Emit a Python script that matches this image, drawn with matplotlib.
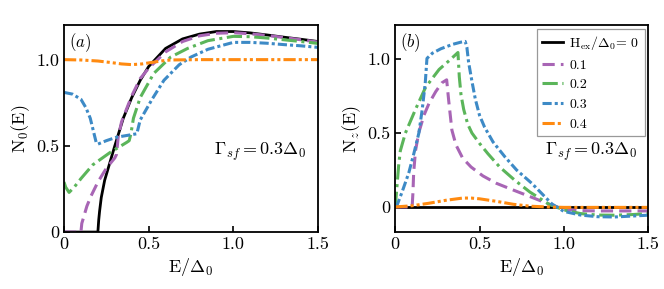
import numpy as np
import matplotlib
matplotlib.use('Agg')
import matplotlib.pyplot as plt
from matplotlib.ticker import FuncFormatter

plt.rcParams['font.family'] = 'serif'
plt.rcParams['font.serif'] = ['cmr10']
plt.rcParams['mathtext.fontset'] = 'cm'
plt.rcParams['axes.unicode_minus'] = False
plt.rcParams['axes.formatter.use_mathtext'] = True

# exchange fields (legend labels)
h_labels = [r'H$_{\rm ex}/\Delta_0$= 0', '0.1', '0.2', '0.3', '0.4']

# panel (a): N0(E)
e_a0 = [0, 0.2, 0.205, 0.21, 0.22, 0.24, 0.27, 0.3, 0.35, 0.4, 0.45, 0.5, 0.6, 0.7, 0.8, 0.9, 1.0, 1.1, 1.2, 1.3, 1.4, 1.5]
n_a0 = [0, 0, 0.07, 0.12, 0.2, 0.3, 0.4, 0.5, 0.66, 0.78, 0.88, 0.96, 1.065, 1.12, 1.148, 1.163, 1.163, 1.155, 1.143, 1.13, 1.118, 1.105]

e_a1 = [0, 0.1, 0.105, 0.12, 0.135, 0.16, 0.2, 0.25, 0.3, 0.31, 0.32, 0.34, 0.4, 0.45, 0.5, 0.6, 0.7, 0.8, 0.9, 1.0, 1.1, 1.2, 1.3, 1.4, 1.5]
n_a1 = [0, 0, 0.05, 0.1, 0.15, 0.21, 0.29, 0.37, 0.43, 0.45, 0.55, 0.64, 0.79, 0.89, 0.95, 1.045, 1.105, 1.138, 1.153, 1.156, 1.15, 1.14, 1.128, 1.115, 1.102]

e_a2 = [0, 0.01, 0.03, 0.06, 0.1, 0.17, 0.27, 0.37, 0.385, 0.395, 0.41, 0.45, 0.53, 0.63, 0.73, 0.85, 1.0, 1.1, 1.2, 1.3, 1.4, 1.5]
n_a2 = [0.29, 0.26, 0.23, 0.26, 0.31, 0.39, 0.46, 0.52, 0.53, 0.57, 0.66, 0.78, 0.92, 1.015, 1.065, 1.11, 1.135, 1.133, 1.125, 1.115, 1.105, 1.094]

e_a3 = [0, 0.05, 0.1, 0.13, 0.155, 0.175, 0.19, 0.2, 0.25, 0.31, 0.37, 0.43, 0.44, 0.45, 0.52, 0.59, 0.68, 0.75, 0.85, 1.0, 1.1, 1.2, 1.3, 1.4, 1.5]
n_a3 = [0.81, 0.8, 0.77, 0.72, 0.66, 0.58, 0.52, 0.51, 0.53, 0.55, 0.56, 0.57, 0.61, 0.65, 0.77, 0.88, 0.97, 1.015, 1.06, 1.1, 1.1, 1.095, 1.087, 1.08, 1.071]

e_a4 = [0, 0.1, 0.2, 0.27, 0.34, 0.4, 0.46, 0.52, 0.58, 0.63, 0.8, 1.0, 1.5]
n_a4 = [1.0, 0.998, 0.992, 0.984, 0.975, 0.971, 0.975, 0.984, 0.993, 0.998, 1.0, 1.0, 1.0]

# panel (b): Nz(E)
e_b0 = [0, 1.5]
n_b0 = [0, 0]

e_b1 = [0, 0.1, 0.105, 0.109, 0.12, 0.139, 0.17, 0.2, 0.24, 0.277, 0.305, 0.317, 0.336, 0.36, 0.4, 0.45, 0.52, 0.6, 0.71, 0.8, 0.91, 1.0, 1.1, 1.2, 1.35, 1.5]
n_b1 = [0, 0, 0.1, 0.23, 0.38, 0.5, 0.62, 0.7, 0.78, 0.84, 0.86, 0.72, 0.52, 0.42, 0.33, 0.27, 0.21, 0.16, 0.11, 0.07, 0.02, -0.015, -0.025, -0.027, -0.027, -0.027]

e_b2 = [0, 0.01, 0.02, 0.03, 0.06, 0.12, 0.18, 0.26, 0.32, 0.372, 0.38, 0.39, 0.406, 0.43, 0.455, 0.5, 0.55, 0.62, 0.71, 0.8, 0.91, 1.0, 1.1, 1.2, 1.3, 1.4, 1.5]
n_b2 = [0, 0.14, 0.28, 0.38, 0.5, 0.66, 0.81, 0.93, 0.99, 1.045, 0.88, 0.76, 0.66, 0.56, 0.5, 0.43, 0.36, 0.27, 0.18, 0.1, 0.02, -0.02, -0.045, -0.055, -0.056, -0.052, -0.045]

e_b3 = [0, 0.01, 0.04, 0.08, 0.11, 0.14, 0.16, 0.178, 0.188, 0.22, 0.27, 0.34, 0.39, 0.415, 0.425, 0.435, 0.455, 0.475, 0.5, 0.53, 0.58, 0.65, 0.72, 0.81, 0.93, 1.0, 1.1, 1.2, 1.3, 1.4, 1.5]
n_b3 = [0, 0.01, 0.1, 0.23, 0.36, 0.5, 0.66, 0.84, 1.005, 1.04, 1.07, 1.1, 1.115, 1.12, 1.08, 0.98, 0.85, 0.73, 0.62, 0.54, 0.44, 0.34, 0.25, 0.16, 0.02, -0.03, -0.055, -0.066, -0.068, -0.062, -0.056]

e_b4 = [0, 0.1, 0.2, 0.3, 0.4, 0.45, 0.5, 0.6, 0.7, 0.8, 0.9, 1.0, 1.5]
n_b4 = [0, 0.008, 0.025, 0.045, 0.06, 0.06, 0.055, 0.038, 0.018, 0.005, 0.0, -0.003, -0.003]

colors = ['black', '#a865b5', '#5bb55a', '#3d8ac6', '#ff8a10']
styles = ['-', (0, (4, 2)), (0, (5, 1.5, 1, 1.5)), (0, (3, 1, 1, 1)), (0, (4, 1, 1, 1, 1, 1))]
widths = [2.0, 2.2, 2.2, 2.2, 2.2]


def fmt(v, pos):
    if abs(v) < 1e-9:
        return '0'
    return '%.1f' % v


def style_ax(ax):
    ax.set_xlim(0, 1.5)
    ax.set_xticks([0, 0.5, 1.0, 1.5])
    ax.xaxis.set_major_formatter(FuncFormatter(fmt))
    ax.yaxis.set_major_formatter(FuncFormatter(fmt))
    ax.tick_params(direction='in', length=4, width=1.2, labelsize=13)
    for s in ax.spines.values():
        s.set_linewidth(1.3)
    ax.set_xlabel(r'E/$\Delta_0$', fontsize=13, labelpad=3)


fig = plt.figure(figsize=(6.64, 2.89), dpi=100)
ax1 = fig.add_axes([0.0964, 0.197, 0.3825, 0.716])
ax2 = fig.add_axes([0.5953, 0.197, 0.3806, 0.716])

data_a = [(e_a0, n_a0), (e_a1, n_a1), (e_a2, n_a2), (e_a3, n_a3), (e_a4, n_a4)]
data_b = [(e_b0, n_b0), (e_b1, n_b1), (e_b2, n_b2), (e_b3, n_b3), (e_b4, n_b4)]

for i in range(5):
    ax1.plot(data_a[i][0], data_a[i][1], color=colors[i], linestyle=styles[i], lw=widths[i])
    ax2.plot(data_b[i][0], data_b[i][1], color=colors[i], linestyle=styles[i], lw=widths[i], label=h_labels[i])

style_ax(ax1)
ax1.set_ylim(0, 1.2)
ax1.set_yticks([0, 0.5, 1.0])
ax1.set_ylabel('N$_0$(E)', fontsize=13, labelpad=3)
ax1.text(0.02, 0.97, r'$(a)$', transform=ax1.transAxes, fontsize=12, va='top', ha='left')
ax1.text(0.955, 0.39, r'$\Gamma_{sf}=0.3\Delta_0$', transform=ax1.transAxes, fontsize=13, va='center', ha='right')

style_ax(ax2)
ax2.set_ylim(-0.17, 1.23)
ax2.set_yticks([0, 0.5, 1.0])
ax2.set_ylabel('N$_z$(E)', fontsize=13, labelpad=3)
ax2.text(0.02, 0.97, r'$(b)$', transform=ax2.transAxes, fontsize=12, va='top', ha='left')
ax2.text(0.96, 0.39, r'$\Gamma_{sf}=0.3\Delta_0$', transform=ax2.transAxes, fontsize=13,
         va='center', ha='right', zorder=10)
leg = ax2.legend(loc='upper right', fontsize=10, fancybox=False, handlelength=1.5,
                 labelspacing=0.5, borderpad=0.38, handletextpad=0.45, framealpha=1,
                 borderaxespad=0.25)
leg.get_frame().set_edgecolor('#999999')
leg.get_frame().set_linewidth(0.9)

fig.savefig('out.png', dpi=100)
